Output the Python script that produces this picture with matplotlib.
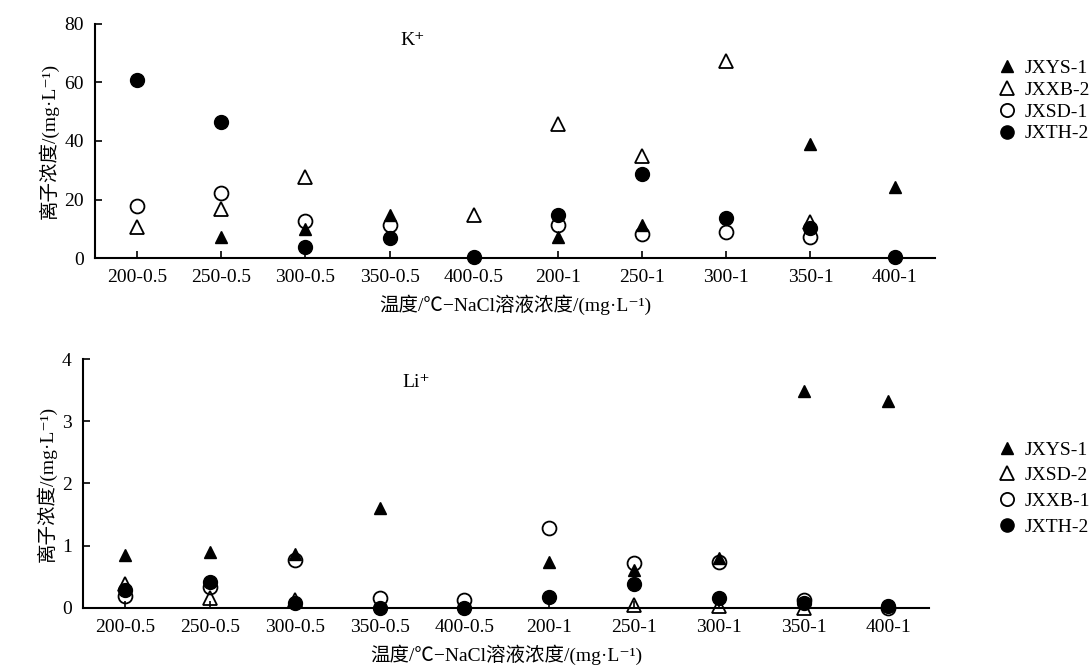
import numpy as np
import matplotlib.pyplot as plt

plt.rcParams['font.family'] = ['Liberation Serif', 'Noto Sans CJK SC', 'DejaVu Sans']

nan = np.nan
labels = ['200-0.5', '250-0.5', '300-0.5', '350-0.5', '400-0.5',
          '200-1', '250-1', '300-1', '350-1', '400-1']

# K+ (mg/L)
k_jxys1 = [nan, 7.2, 10.0, 14.7, nan, 7.3, 11.3, nan, 39.0, 24.2]
k_jxxb2 = [10.7, 16.8, 27.6, nan, 14.7, 45.7, 34.9, 67.3, 12.4, nan]
k_jxsd1 = [17.8, 22.3, 12.8, 11.3, nan, 11.3, 8.1, 9.0, 7.3, nan]
k_jxth2 = [60.7, 46.6, 3.9, 6.7, 0.2, 14.7, 28.6, 13.6, 10.1, 0.2]

# Li+ (mg/L)
li_jxys1 = [0.85, 0.90, 0.86, 1.61, nan, 0.74, 0.61, 0.80, 3.49, 3.33]
li_jxsd2 = [0.38, 0.15, 0.12, nan, nan, nan, 0.04, 0.03, 0.0, nan]
li_jxxb1 = [0.19, 0.34, 0.77, 0.15, 0.12, 1.28, 0.72, 0.73, 0.12, 0.0]
li_jxth2 = [0.28, 0.41, 0.07, 0.0, 0.0, 0.18, 0.38, 0.15, 0.07, 0.02]

ylab = '离子浓度/(mg·L⁻¹)'
xlab = '温度/℃−NaCl溶液浓度/(mg·L⁻¹)'

fig = plt.figure(figsize=(10.89, 6.65), dpi=100)
ax1 = fig.add_axes([0.0872, 0.612, 0.7714, 0.352])
ax2 = fig.add_axes([0.0762, 0.0862, 0.7769, 0.3735])

x = np.arange(len(labels))


def style(ax, ymax, step):
    for s in ['top', 'right']:
        ax.spines[s].set_visible(False)
    for s in ['left', 'bottom']:
        ax.spines[s].set_linewidth(1.5)
    ax.set_xlim(-0.5, 9.48)
    ax.set_ylim(0, ymax)
    ax.set_xticks(x)
    ax.set_xticklabels(labels)
    ax.set_yticks(np.arange(0, ymax + step / 2, step))
    ax.tick_params(direction='in', length=5, width=1.2, labelsize=14, pad=8)


def scatter(ax, a, b, c, d, names):
    h = []
    h.append(ax.plot(x, a, '^', color='black', ms=9, clip_on=False, zorder=5, label=names[0])[0])
    h.append(ax.plot(x, b, '^', mfc='none', mec='black', mew=1.3, ms=10, clip_on=False, zorder=3, label=names[1])[0])
    h.append(ax.plot(x, c, 'o', mfc='none', mec='black', mew=1.3, ms=10, clip_on=False, zorder=3, label=names[2])[0])
    h.append(ax.plot(x, d, 'o', color='black', ms=10, clip_on=False, zorder=4, label=names[3])[0])
    return h


h1 = scatter(ax1, k_jxys1, k_jxxb2, k_jxsd1, k_jxth2, ['JXYS-1', 'JXXB-2', 'JXSD-1', 'JXTH-2'])
style(ax1, 80, 20)
ax1.text(0.363, 0.93, 'K⁺', transform=ax1.transAxes, fontsize=14, va='center')
ax1.set_ylabel(ylab, fontsize=14, labelpad=4)
ax1.set_xlabel(xlab, fontsize=14, labelpad=6)

h2 = scatter(ax2, li_jxys1, li_jxsd2, li_jxxb1, li_jxth2, ['JXYS-1', 'JXSD-2', 'JXXB-1', 'JXTH-2'])
style(ax2, 4, 1)
ax2.text(0.378, 0.905, 'Li⁺', transform=ax2.transAxes, fontsize=14, va='center')
ax2.set_ylabel(ylab, fontsize=14, labelpad=4)
ax2.set_xlabel(xlab, fontsize=14, labelpad=6)

for h, top, sp in [(h1, 0.911, 0.22), (h2, 0.337, 0.42)]:
    fig.legend(handles=h, loc='upper left', bbox_to_anchor=(0.9155, top), frameon=False,
               fontsize=14, handlelength=1.0, handletextpad=0.4, labelspacing=sp,
               borderaxespad=0, borderpad=0, markerscale=0.95)

fig.savefig('out.png', dpi=100)
